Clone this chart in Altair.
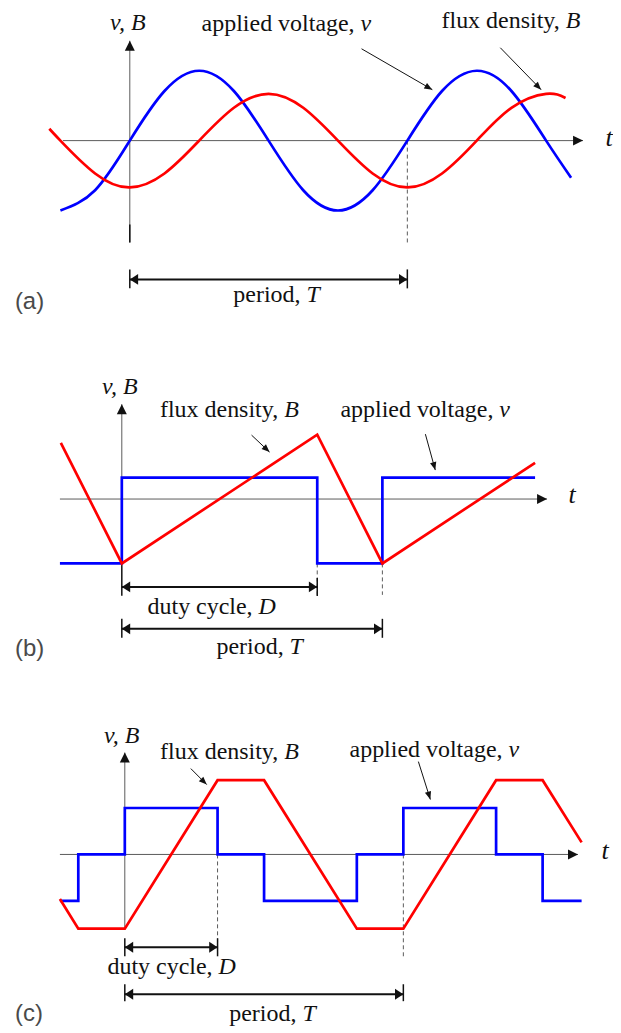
import math
import altair as alt
import pandas as pd

# ---------------- colours & fonts ----------------
BLUE = "#0000ff"
RED = "#ff0000"
GRID = "#5a5a5a"
INK = "#111111"
SERIF = "Liberation Serif"
SANS = "Liberation Sans"
FS = 24
PANEL_W = 605

# ---------------- panel (a): sinusoidal excitation ----------------
A_BLUE_T = [-0.25, -0.125, 0, 0.125, 0.25, 0.375, 0.5, 0.625, 0.75, 0.875, 1.0, 1.125, 1.25, 1.375, 1.5, 1.59]
A_BLUE_V = [-1, -0.71, 0, 0.71, 1, 0.71, 0, -0.71, -1, -0.71, 0, 0.71, 1, 0.71, 0, -0.53]
A_RED_T = [-0.29, -0.25, -0.125, 0, 0.125, 0.25, 0.375, 0.5, 0.625, 0.75, 0.875, 1.0, 1.125, 1.25, 1.375, 1.5, 1.57]
A_RED_V = [0.17, 0, -0.47, -0.67, -0.47, 0, 0.47, 0.67, 0.47, 0, -0.47, -0.67, -0.47, 0, 0.47, 0.67, 0.61]
A_TAXIS = [-0.241, 1.633]
A_VAXIS = [-1.457, 1.429]
A_DASHED = [(1.0, 0.0, -1.486)]
A_DIMS = [(0.0, 1.0, -1.986)]
A_TICKS = [(0.0, -1.843, -2.114), (1.0, -1.843, -2.114), (0.0, -1.2, -1.457)]
A_POINTERS = [(0.835, 1.314, 1.090, 0.729), (1.335, 1.329, 1.482, 0.729)]
A_LABELS = [("applied voltage,", "v", 0.810, 1.571), ("flux density,", "B", 1.549, 1.614),
            ("period,", "T", 0.615, -2.314)]
A_VB = (-0.007, 1.586)
A_TLAB = (1.727, 0.043)
A_TAG = ("(a)", -0.414, -2.314)
A_GEOM = dict(px_t=278, px_v=70, t0_px=130, v0_px=138, top_px=8, h=322)

# ---------------- panel (b): two-level square wave ----------------
B_BLUE_T = [-0.2375, 0, 0, 0.75, 0.75, 1, 1, 1.586]
B_BLUE_V = [-3, -3, 1, 1, -3, -3, 1, 1]
B_RED_T = [-0.234, 0, 0.75, 1, 1.586]
B_RED_V = [2.62, -3, 3, -3, 1.69]
B_TAXIS = [-0.2375, 1.632]
B_VAXIS = [-3.0, 4.419]
B_DASHED = [(0.75, -3.0, -4.465), (1.0, -3.0, -4.465)]
B_DIMS = [(0.0, 0.75, -4.093), (0.0, 1.0, -6.047)]
B_TICKS = [(0.0, -3.07, -4.51), (0.75, -3.674, -4.512), (0.0, -5.581, -6.465), (1.0, -5.581, -6.465)]
B_POINTERS = [(0.498, 2.977, 0.567, 2.186), (1.165, 3.023, 1.203, 1.349)]
B_LABELS = [("flux density,", "B", 0.600, 3.814), ("applied voltage,", "v", 1.426, 3.814),
            ("duty cycle,", "D", 0.502, -5.349), ("period,", "T", 0.621, -7.209)]
B_VB = (-0.0077, 4.884)
B_TLAB = (1.728, 0.186)
B_TAG = ("(b)", -0.41, -6.977)
B_GEOM = dict(px_t=261, px_v=21.5, t0_px=122, v0_px=497, top_px=330, h=345)

# ---------------- panel (c): three-level wave ----------------
C_BLUE_T = [-0.233, -0.167, -0.167, 0, 0, 0.333, 0.333, 0.5, 0.5, 0.833, 0.833, 1, 1, 1.333, 1.333, 1.5, 1.5, 1.64]
C_BLUE_V = [-1, -1, 0, 0, 1, 1, 0, 0, -1, -1, 0, 0, 1, 1, 0, 0, -1, -1]
C_RED_T = [-0.233, -0.167, 0, 0.333, 0.5, 0.833, 1, 1.333, 1.5, 1.64]
C_RED_V = [-0.96, -1.6, -1.6, 1.6, 1.6, -1.6, -1.6, 1.6, 1.6, 0.26]
C_TAXIS = [-0.233, 1.627]
C_VAXIS = [-1.6, 2.194]
C_DASHED = [(0.333, 0.0, -2.15), (1.0, 0.0, -2.237)]
C_DIMS = [(0.0, 0.333, -2.0), (0.0, 1.0, -3.011)]
C_TICKS = [(0.0, -1.806, -2.194), (0.333, -1.806, -2.194), (0.0, -2.796, -3.161), (1.0, -2.796, -3.161)]
C_POINTERS = [(0.237, 1.849, 0.294, 1.505), (1.054, 2.0, 1.097, 1.183)]
C_LABELS = [("flux density,", "B", 0.551, 2.065), ("applied voltage,", "v", 1.356, 2.108),
            ("duty cycle,", "D", 0.315, -2.581), ("period,", "T", 0.616, -3.591)]
C_VB = (-0.011, 2.409)
C_TLAB = (1.724, 0.065)
C_TAG = ("(c)", -0.394, -3.441)
C_GEOM = dict(px_t=279, px_v=46.5, t0_px=125, v0_px=853, top_px=675, h=350)

# arrowhead glyphs (tip at the origin, pointing up before rotation)
HEAD_AXIS = "M0,0L-1,2L1,2Z"
HEAD_DIM = "M0,0L-1.3,2L1.3,2Z"
HEAD_PTR = "M0,0L-0.8,2L0.8,2Z"


def panel(g, blue_t, blue_v, red_t, red_v, interp, taxis, vaxis, dashed, dims, ticks,
          pointers, labels, vb, tlab, tag):
    xlo = (8 - g["t0_px"]) / g["px_t"]
    xhi = (8 + PANEL_W - g["t0_px"]) / g["px_t"]
    yhi = (g["v0_px"] - g["top_px"]) / g["px_v"]
    ylo = (g["v0_px"] - g["top_px"] - g["h"]) / g["px_v"]
    XS = alt.Scale(domain=[xlo, xhi], nice=False, zero=False)
    YS = alt.Scale(domain=[ylo, yhi], nice=False, zero=False)

    def xe(f):
        return alt.X(f"{f}:Q", scale=XS, axis=None)

    def ye(f):
        return alt.Y(f"{f}:Q", scale=YS, axis=None)

    layers = []
    # coordinate axes
    ax = pd.DataFrame({"t1": [taxis[0], 0.0], "t2": [taxis[1], 0.0],
                       "v1": [0.0, vaxis[0]], "v2": [0.0, vaxis[1]]})
    layers.append(alt.Chart(ax).mark_rule(color=GRID, strokeWidth=1).encode(
        x=xe("t1"), x2="t2", y=ye("v1"), y2="v2"))
    # dashed guides
    dd = pd.DataFrame(dashed, columns=["t", "v1", "v2"])
    layers.append(alt.Chart(dd).mark_rule(color=GRID, strokeWidth=1, strokeDash=[4, 3]).encode(
        x=xe("t"), y=ye("v1"), y2="v2"))
    # dimension shafts
    dm = pd.DataFrame(dims, columns=["t1", "t2", "v"])
    layers.append(alt.Chart(dm).mark_rule(color=INK, strokeWidth=2).encode(
        x=xe("t1"), x2="t2", y=ye("v")))
    # end ticks
    tk = pd.DataFrame(ticks, columns=["t", "v1", "v2"])
    layers.append(alt.Chart(tk).mark_rule(color=INK, strokeWidth=1.5).encode(
        x=xe("t"), y=ye("v1"), y2="v2"))
    # pointer lines
    pt = pd.DataFrame(pointers, columns=["t1", "v1", "t2", "v2"])
    layers.append(alt.Chart(pt).mark_rule(color=INK, strokeWidth=1).encode(
        x=xe("t1"), x2="t2", y=ye("v1"), y2="v2"))

    # arrowheads
    ah = pd.DataFrame({"t": [taxis[1], 0.0], "v": [0.0, vaxis[1]], "ang": [90, 0]})
    dh = pd.DataFrame([(a, v, 270) for a, b, v in dims] + [(b, v, 90) for a, b, v in dims],
                      columns=["t", "v", "ang"])
    rows = []
    for t1, v1, t2, v2 in pointers:
        dx = (t2 - t1) * g["px_t"]
        dy = -(v2 - v1) * g["px_v"]
        rows.append((t2, v2, math.degrees(math.atan2(dx, -dy)) % 360))
    ph = pd.DataFrame(rows, columns=["t", "v", "ang"])
    for df, shp, sz in [(ah, HEAD_AXIS, 100), (dh, HEAD_DIM, 70), (ph, HEAD_PTR, 64)]:
        layers.append(alt.Chart(df).mark_point(shape=shp, size=sz, filled=True, color=INK,
                                               opacity=1, strokeWidth=0).encode(
            x=xe("t"), y=ye("v"), angle=alt.Angle("ang:Q", scale=None)))

    # waveforms
    bd = pd.DataFrame({"t": blue_t, "v": blue_v, "i": range(len(blue_t))})
    rd = pd.DataFrame({"t": red_t, "v": red_v, "i": range(len(red_t))})
    layers.append(alt.Chart(bd).mark_line(color=BLUE, strokeWidth=2.7, interpolate=interp).encode(
        x=xe("t"), y=ye("v"), order="i:Q"))
    layers.append(alt.Chart(rd).mark_line(color=RED, strokeWidth=2.7, interpolate=interp).encode(
        x=xe("t"), y=ye("v"), order="i:Q"))

    # labels
    lb = pd.DataFrame(labels, columns=["word", "sym", "t", "v"])
    layers.append(alt.Chart(lb).mark_text(align="right", baseline="alphabetic", font=SERIF,
                                          fontSize=FS, color=INK).encode(
        x=xe("t"), y=ye("v"), text="word:N"))
    layers.append(alt.Chart(lb).mark_text(align="left", baseline="alphabetic", font=SERIF,
                                          fontSize=FS, fontStyle="italic", dx=6, color=INK).encode(
        x=xe("t"), y=ye("v"), text="sym:N"))
    vbd = pd.DataFrame({"t": [vb[0]], "v": [vb[1]], "s": ["v, B"]})
    layers.append(alt.Chart(vbd).mark_text(align="center", baseline="alphabetic", font=SERIF,
                                           fontSize=FS, fontStyle="italic", color=INK).encode(
        x=xe("t"), y=ye("v"), text="s:N"))
    tld = pd.DataFrame({"t": [tlab[0]], "v": [tlab[1]], "s": ["t"]})
    layers.append(alt.Chart(tld).mark_text(align="center", baseline="middle", font=SERIF,
                                           fontSize=26, fontStyle="italic", color=INK).encode(
        x=xe("t"), y=ye("v"), text="s:N"))
    tgd = pd.DataFrame({"t": [tag[1]], "v": [tag[2]], "s": [tag[0]]})
    layers.append(alt.Chart(tgd).mark_text(align="left", baseline="middle", font=SANS,
                                           fontSize=24, color="#4a4a4a").encode(
        x=xe("t"), y=ye("v"), text="s:N"))

    return alt.layer(*layers).properties(width=PANEL_W, height=g["h"])


pa = panel(A_GEOM, A_BLUE_T, A_BLUE_V, A_RED_T, A_RED_V, "natural", A_TAXIS, A_VAXIS, A_DASHED,
           A_DIMS, A_TICKS, A_POINTERS, A_LABELS, A_VB, A_TLAB, A_TAG)
pb = panel(B_GEOM, B_BLUE_T, B_BLUE_V, B_RED_T, B_RED_V, "linear", B_TAXIS, B_VAXIS, B_DASHED,
           B_DIMS, B_TICKS, B_POINTERS, B_LABELS, B_VB, B_TLAB, B_TAG)
pc = panel(C_GEOM, C_BLUE_T, C_BLUE_V, C_RED_T, C_RED_V, "linear", C_TAXIS, C_VAXIS, C_DASHED,
           C_DIMS, C_TICKS, C_POINTERS, C_LABELS, C_VB, C_TLAB, C_TAG)

chart = alt.vconcat(pa, pb, pc, spacing=0).properties(padding=0).configure_view(stroke=None)
chart.save("out.html", embed_options={"renderer": "svg", "actions": False})
